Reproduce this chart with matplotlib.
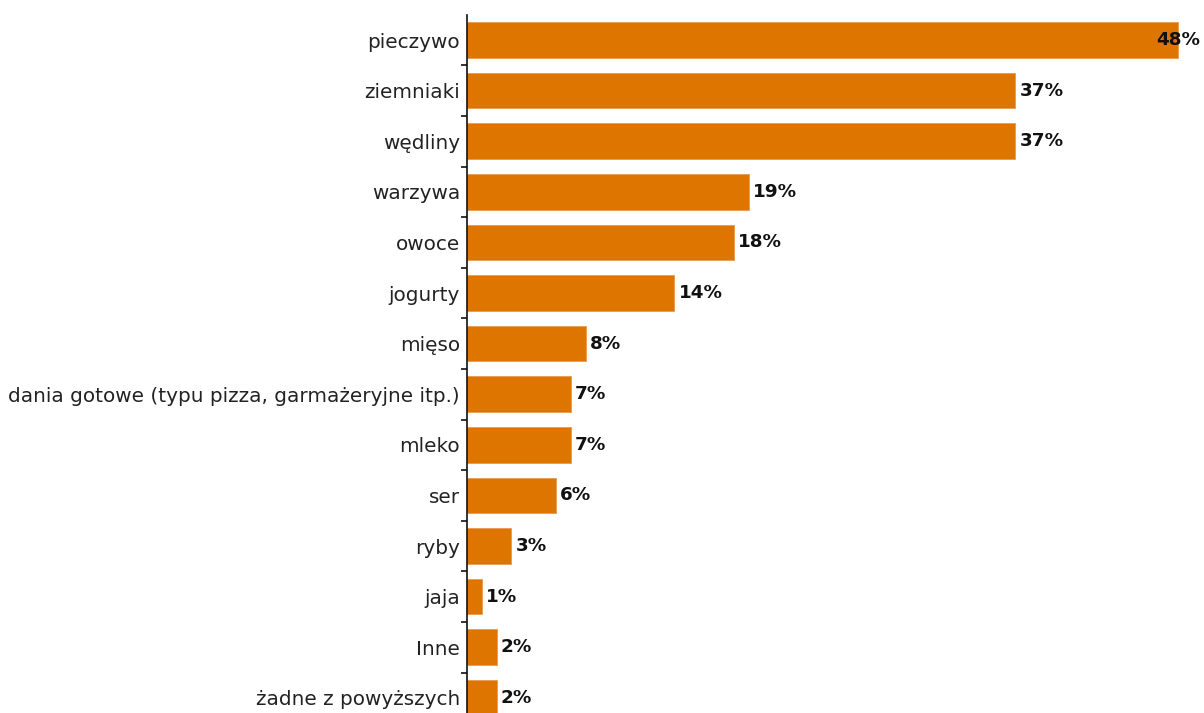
import matplotlib
matplotlib.use("Agg")
import matplotlib.pyplot as plt
import numpy as np

categories = ["pieczywo", "ziemniaki", "wędliny", "warzywa", "owoce", "jogurty", "mięso",
              "dania gotowe (typu pizza, garmażeryjne itp.)", "mleko", "ser", "ryby", "jaja",
              "Inne", "żadne z powyższych"]
values = [48, 37, 37, 19, 18, 14, 8, 7, 7, 6, 3, 1, 2, 2]
labels = [f"{v}%" for v in values]

W, H = 1204, 713
fig = plt.figure(figsize=(W / 100, H / 100), dpi=100)
left_px = 467
top_px = 14.7
step = 50.6
n = len(categories)
bottom_px = top_px + n * step
ax = fig.add_axes([left_px / W, (H - bottom_px) / H, (W - left_px) / W, (bottom_px - top_px) / H])

scale = 14.82  # px per percent
ax.set_xlim(0, (W - left_px) / scale)
ax.set_ylim(n - 0.5, -0.5)

y = np.arange(n)
ax.barh(y, values, height=0.7, color="#DD7500", edgecolor="#E89A4C", linewidth=0.6)

for i, (v, lab) in enumerate(zip(values, labels)):
    if v == max(values):
        ax.annotate(lab, (v, i), xytext=(22, 0), textcoords="offset pixels",
                    ha="right", va="center", fontsize=13.2, fontweight="bold", color="#111111")
    else:
        ax.annotate(lab, (v, i), xytext=(4, 0), textcoords="offset pixels",
                    ha="left", va="center", fontsize=13.2, fontweight="bold", color="#111111")

ax.set_yticks(y)
ax.set_yticklabels(categories, fontsize=14.4, color="#222222")
ax.set_yticks(np.arange(1, n + 1) - 0.5, minor=True)
ax.tick_params(axis="y", which="major", length=0, pad=5)
ax.tick_params(axis="y", which="minor", length=4, width=1.2, color="#111111", direction="out")
ax.set_xticks([])
for s in ["top", "right", "bottom"]:
    ax.spines[s].set_visible(False)
ax.spines["left"].set_color("#111111")
ax.spines["left"].set_linewidth(1.2)

fig.savefig("out.png", dpi=100)
